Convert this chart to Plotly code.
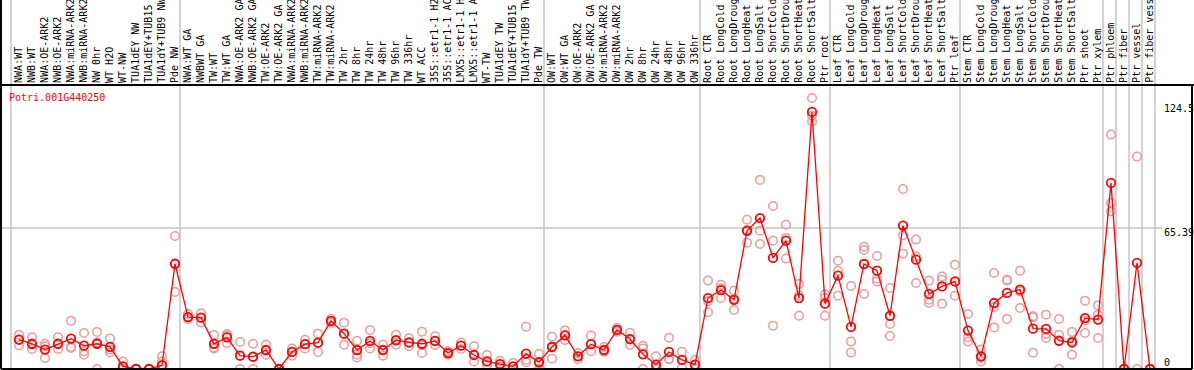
import plotly.graph_objects as go

categories = [
    "NWA:WT", "NWB:WT", "NWA:OE-ARK2", "NWB:OE-ARK2", "NWA:miRNA-ARK2", "NWB:miRNA-ARK2",
    "NW 0hr", "WT H2O", "WT-NW", "TUA1dEY NW", "TUA1dEY+TUB15 NW", "TUA1dY+TUB9 NW", "Pde NW",
    "NWA:WT GA", "NWBWT GA", "TW:WT", "TW:WT GA", "NWA:OE-ARK2 GA", "NWB:OE-ARK2 GA",
    "TW:OE-ARK2", "TW:OE-ARK2 GA", "NWA:miRNA-ARK2", "NWB:miRNA-ARK2", "TW:miRNA-ARK2",
    "TW:miRNA-ARK2", "TW 2hr", "TW 8hr", "TW 24hr", "TW 48hr", "TW 96hr", "TW 336hr", "WT ACC",
    "35S::etr1-1 H2O", "35S::etr1-1 ACC", "LMX5::etr1-1 H2O", "LMX5::etr1-1 ACC", "WT-TW",
    "TUA1dEY TW", "TUA1dEY+TUB15 TW", "TUA1dY+TUB9 TW", "Pde TW",
    "OW:WT", "OW:WT GA", "OW:OE-ARK2", "OW:OE-ARK2 GA", "OW:miRNA-ARK2", "OW:miRNA-ARK2",
    "OW 2hr", "OW 8hr", "OW 24hr", "OW 48hr", "OW 96hr", "OW 336hr",
    "Root CTR", "Root LongCold", "Root LongDrought", "Root LongHeat", "Root LongSalt",
    "Root ShortCold", "Root ShortDrought", "Root ShortHeat", "Root ShortSalt", "Ptr root",
    "Leaf CTR", "Leaf LongCold", "Leaf LongDrought", "Leaf LongHeat", "Leaf LongSalt",
    "Leaf ShortCold", "Leaf ShortDrought", "Leaf ShortHeat", "Leaf ShortSalt", "Ptr leaf",
    "Stem CTR", "Stem LongCold", "Stem LongDrought", "Stem LongHeat", "Stem LongSalt",
    "Stem ShortCold", "Stem ShortDrought", "Stem ShortHeat", "Stem ShortSalt", "Ptr shoot",
    "Ptr xylem", "Ptr phloem", "Ptr fiber", "Ptr vessel", "Ptr fiber vessel",
]

means = [
    13.6, 11.7, 9.0, 11.7, 14.1, 10.8, 11.7, 10.3, 1.2, 0.0, 0.0, 1.7, 48.8,
    24.1, 23.8, 11.7, 14.7, 6.2, 5.7, 8.8, 0.0, 7.9, 11.5, 12.2, 22.3, 16.4, 8.8, 13.0,
    8.8, 13.4, 12.3, 11.7, 13.0, 7.4, 10.8, 6.5, 3.5, 2.3, 1.2, 7.1, 3.2,
    10.2, 15.6, 5.9, 11.5, 8.8, 18.1, 13.9, 6.8, 2.0, 7.9, 4.2, 2.0,
    32.9, 36.6, 32.1, 64.1, 70.0, 51.5, 59.5, 32.9, 119.2, 30.3,
    43.3, 19.5, 48.7, 45.6, 24.7, 66.5, 50.7, 34.8, 38.3, 40.6,
    17.8, 5.9, 30.6, 35.3, 36.8, 18.7, 18.6, 13.1, 12.3, 23.6, 22.9,
    86.3, 0.0, 49.2, 0.0,
]

replicates = [
    [15.9, 13.6, 11.0], [14.7, 11.3, 9.3], [11.7, 10.5, 5.1], [14.7, 11.7, 9.3],
    [22.4, 10.2, 9.7], [16.7, 8.2, 6.6], [17.2, 12.3, 0.0], [14.1, 9.0, 7.7],
    [3.5, 0.6, 0.0], [0.0, 0.0, 0.0], [0.0, 0.0, 0.0], [5.9, 3.5, 2.0], [61.7, 48.8, 35.7],
    [25.5, 24.0, 23.2], [25.8, 23.8, 21.6], [15.8, 10.0, 9.5], [16.2, 15.5, 12.1],
    [12.5, 6.2, 0.0], [11.7, 5.5, 0.0], [11.4, 8.5, 6.6], [0.0, 0.0, 0.0],
    [9.5, 7.9, 6.2], [13.6, 11.5, 9.5], [16.4, 12.2, 7.9], [23.3, 22.3, 21.4],
    [21.5, 16.4, 11.3], [13.1, 6.6, 5.3], [18.1, 12.0, 9.5], [11.4, 8.8, 6.2],
    [15.9, 13.0, 11.3], [14.3, 12.3, 10.6], [17.3, 11.0, 7.4], [15.2, 13.0, 11.1],
    [8.2, 7.4, 6.6], [12.3, 10.8, 9.3], [10.5, 6.5, 3.5], [6.5, 3.5, 2.0],
    [3.8, 2.3, 1.2], [2.8, 1.0, 0.0], [19.6, 4.3, 3.1], [7.1, 2.5, 0.0],
    [15.0, 10.5, 4.8], [17.9, 15.6, 13.4], [7.4, 5.9, 4.5], [15.5, 11.5, 8.2],
    [10.2, 8.8, 8.0], [19.0, 18.1, 17.3], [16.8, 13.9, 11.1], [10.8, 9.5, 0.0],
    [5.9, 1.0, 0.0], [14.5, 4.8, 4.5], [8.0, 4.2, 0.5], [4.2, 2.0, 0.0],
    [41.0, 31.4, 26.3], [39.1, 37.5, 32.9], [36.3, 32.6, 27.4], [69.2, 64.5, 58.6],
    [87.7, 64.1, 58.0], [75.6, 59.5, 20.1], [66.9, 60.8, 51.2], [39.4, 34.1, 24.7],
    [125.7, 117.5, 114.8], [34.5, 32.9, 24.7],
    [50.2, 45.6, 34.0], [38.5, 12.7, 7.6], [56.7, 55.2, 34.8], [52.4, 41.9, 40.6],
    [37.6, 20.9, 15.3], [83.5, 62.0, 53.5], [60.0, 52.2, 39.9], [41.0, 32.1, 30.6],
    [42.9, 41.4, 30.3], [48.4, 40.5, 34.0],
    [25.5, 14.7, 12.8], [9.0, 5.1, 3.5], [44.5, 28.6, 19.3], [41.4, 41.0, 23.2],
    [45.6, 36.0, 28.3], [24.5, 24.0, 7.5], [25.2, 16.3, 14.4], [23.2, 15.9, 0.0],
    [17.2, 13.0, 6.6], [31.7, 22.5, 16.7], [29.5, 25.2, 14.4],
    [108.7, 77.0, 73.1], [0.0, 0.0, 0.0], [98.5, 0.0], [0.0, 0.0, 0.0],
]

group_starts = [0, 13, 41, 53, 63, 73, 84, 85, 86, 87, 88]
y_ticks = [124.5, 65.39, 0]
y_tick_labels = ["124.5", "65.39", "0"]
gene_id = "Potri.001G440250"

W, H = 1194, 370
L, R, T, B = 1, 2, 85, 1
plot_w = W - L - R
plot_h = H - T - B
STEP = 13.0
X0 = 19.0
CHAR_W = 6.02
x_lo = (L - X0) / STEP
x_hi = (W - R - X0) / STEP
y_top = plot_h / (141.0 / 65.39)

FONT = "DejaVu Sans Mono"
RED = "#ff0000"
REP = "#ec9a9a"
GRID = "#c4c4c4"


def px_x(p):
    return (p - L) / plot_w


def px_y(p):
    return (H - B - p) / plot_h


xs = list(range(len(categories)))
rep_x, rep_y = [], []
for i, reps in enumerate(replicates):
    for v in reps:
        rep_x.append(i)
        rep_y.append(v)

fig = go.Figure()
fig.add_trace(go.Scatter(
    x=rep_x, y=rep_y, mode="markers", cliponaxis=False, showlegend=False,
    marker=dict(symbol="circle-open", size=8.5, color=REP, line=dict(width=1.5, color=REP)),
))
fig.add_trace(go.Scatter(
    x=xs, y=means, mode="lines+markers", cliponaxis=False, showlegend=False,
    line=dict(color=RED, width=1.3),
    marker=dict(symbol="circle-open", size=8.5, color=RED, line=dict(width=1.8, color=RED)),
))

shapes = []
for g in group_starts:
    shapes.append(dict(type="line", xref="x", yref="paper", x0=g - 8 / STEP, x1=g - 8 / STEP,
                       y0=0, y1=px_y(0), line=dict(color=GRID, width=1.5), layer="below"))
shapes.append(dict(type="line", xref="paper", yref="y", x0=0, x1=px_x(1162), y0=65.39, y1=65.39,
                   line=dict(color=GRID, width=1.5), layer="below"))
# frame
shapes.append(dict(type="line", xref="paper", yref="paper", x0=px_x(0), x1=px_x(W),
                   y0=1, y1=1, line=dict(color="black", width=2)))
shapes.append(dict(type="line", xref="paper", yref="paper", x0=0, x1=0, y0=0, y1=px_y(0),
                   line=dict(color="black", width=2)))
shapes.append(dict(type="line", xref="paper", yref="paper", x0=0, x1=1, y0=0, y1=0,
                   line=dict(color="black", width=2)))
shapes.append(dict(type="line", xref="paper", yref="paper", x0=1, x1=1, y0=0, y1=1,
                   line=dict(color="black", width=2)))

annotations = []
LABEL_BOTTOM = 83
for i, name in enumerate(categories):
    cy = LABEL_BOTTOM - len(name) * CHAR_W / 2
    annotations.append(dict(
        x=i, xref="x", y=px_y(cy), yref="paper", text=name, showarrow=False,
        textangle=-90, xanchor="center", yanchor="middle", borderpad=0,
        font=dict(family=FONT, size=10, color="black"),
    ))

TICK_LEFT = 1164
tick_centers_y = {124.5: 108, 65.39: 232, 0: 362}
for v, lab in zip(y_ticks, y_tick_labels):
    annotations.append(dict(
        x=px_x(TICK_LEFT + len(lab) * CHAR_W / 2), xref="paper",
        y=px_y(tick_centers_y[v]), yref="paper", text=lab, showarrow=False,
        xanchor="center", yanchor="middle", borderpad=0,
        font=dict(family=FONT, size=10, color="black"),
    ))

annotations.append(dict(
    x=px_x(9 + len(gene_id) * CHAR_W / 2), xref="paper", y=px_y(97), yref="paper", text=gene_id,
    showarrow=False, xanchor="center", yanchor="middle", borderpad=0,
    font=dict(family=FONT, size=10, color=RED),
))

fig.update_layout(
    width=W, height=H, margin=dict(l=L, r=R, t=T, b=B, pad=0, autoexpand=False),
    paper_bgcolor="white", plot_bgcolor="white",
    xaxis=dict(range=[x_lo, x_hi], visible=False, fixedrange=True),
    yaxis=dict(range=[0, y_top], visible=False, fixedrange=True),
    shapes=shapes, annotations=annotations, showlegend=False,
)

fig.write_html(
    "out.html",
    config={"displayModeBar": False},
    post_script="document.body.style.margin='0';document.body.style.overflow='hidden';",
)
